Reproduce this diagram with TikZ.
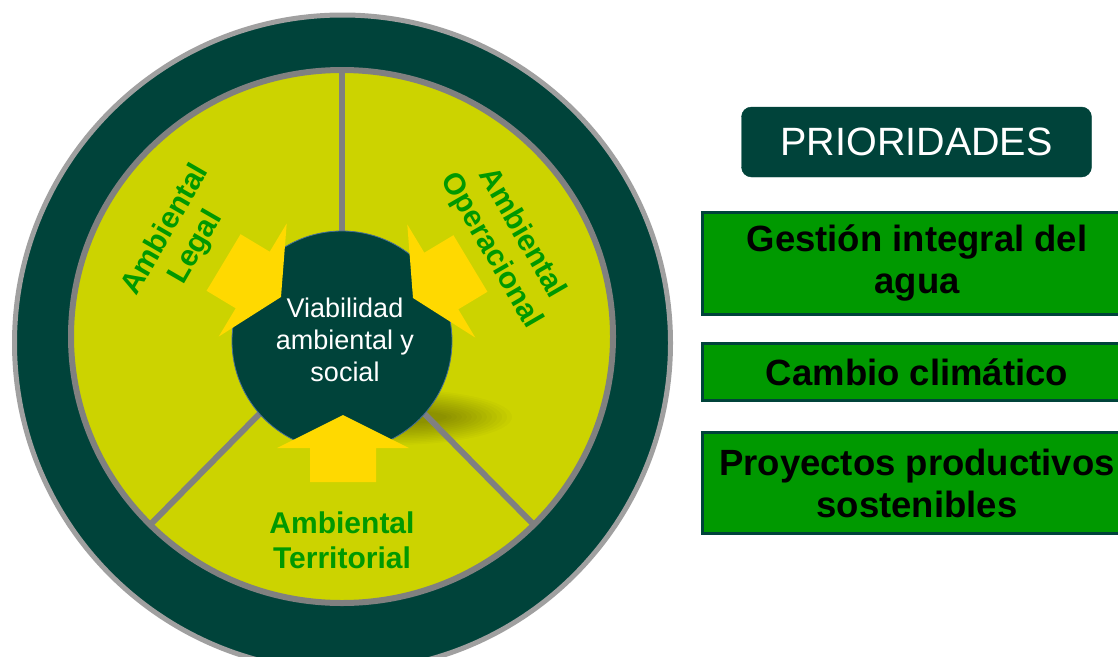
\documentclass[tikz,border=0pt]{standalone}
\usepackage{fontspec}
\setmainfont{Liberation Sans}
\definecolor{dkgreen}{RGB}{0,67,58}
\definecolor{ygreen}{RGB}{204,211,0}
\definecolor{ayellow}{RGB}{255,217,0}
\definecolor{lblgreen}{RGB}{0,153,0}
\definecolor{boxgreen}{RGB}{0,153,0}
\definecolor{outergray}{RGB}{160,160,160}
\definecolor{midgray}{RGB}{128,128,128}
\definecolor{coreedge}{RGB}{70,110,150}
\tikzset{
  spoke/.style={draw=midgray, line width=6pt},
  bigarrow/.style={fill=ayellow, draw=none},
  lbl/.style={text=lblgreen, font=\bfseries\fontsize{30}{35}\selectfont, align=center, inner sep=0pt},
  prio/.style={fill=dkgreen, draw=dkgreen, rounded corners=10pt, text=white, font=\fontsize{39.5}{45}\selectfont, minimum width=350pt, minimum height=70pt, inner sep=0pt},
  pbox/.style={fill=boxgreen, draw=dkgreen, line width=3pt, text=black, font=\bfseries\fontsize{36.5}{42}\selectfont, align=center, minimum width=429pt, inner sep=0pt},
}
\begin{document}
\begin{tikzpicture}[x=1pt,y=-1pt]
\useasboundingbox (0,0) rectangle (1118,656);
\clip (0,0) rectangle (1118,656);
\fill[white] (0,0) rectangle (1118,656);
% outer ring
\filldraw[fill=dkgreen, draw=outergray, line width=5pt] (342.5,343) ellipse [x radius=328pt, y radius=328pt];
% inner disc
\filldraw[fill=ygreen, draw=midgray, line width=6pt] (342,336.5) ellipse [x radius=271pt, y radius=266.5pt];
% shadow (soft)
\foreach \k in {0,...,13}
  \fill[black, opacity=0.022] (390,417) ellipse [x radius=122pt-5pt*\k, y radius=28pt-1.6pt*\k];
% spokes
\coordinate (hub) at (342,330);
\coordinate (sTop) at (342,70);
\coordinate (sLeft) at (150,525);
\coordinate (sRight) at (534,525);
\draw[spoke] (sTop) -- (hub);
\draw[spoke] (sLeft) -- (hub);
\draw[spoke] (sRight) -- (hub);
% core
\node[circle, fill=dkgreen, draw=coreedge, line width=0.8pt, minimum size=220pt, inner sep=0pt] (core) at (342,341) {};
% arrows
\foreach \px/\py/\ang in {343/415/0, 281/297/-121, 413/298/121}{
  \begin{scope}[shift={(\px,\py)}, rotate=\ang]
    \fill[bigarrow] (0,0) -- (66,33) -- (33,33) -- (33,67) -- (-33,67) -- (-33,33) -- (-66,33) -- cycle;
  \end{scope}
}
\node[text=white, font=\fontsize{27}{32}\selectfont, align=center, inner sep=0pt] (corelabel) at (345,340) {Viabilidad\\ambiental y\\social};
% sector labels
\node[lbl, rotate=60] (legal) at (181,239) {Ambiental\\Legal};
\node[lbl, rotate=-60] (oper) at (506,242) {Ambiental\\Operacional};
\node[lbl] (terr) at (342,540) {Ambiental\\Territorial};
% right panel
\node[prio] (prio) at (916.5,142) {PRIORIDADES};
\node[pbox, minimum height=102pt] (agua) at (917,263) {Gestión integral del\\agua};
\node[pbox, minimum height=57pt] (clima) at (917,372) {Cambio climático};
\node[pbox, minimum height=101pt] (proy) at (917,483) {Proyectos productivos\\sostenibles};
\end{tikzpicture}
\end{document}
